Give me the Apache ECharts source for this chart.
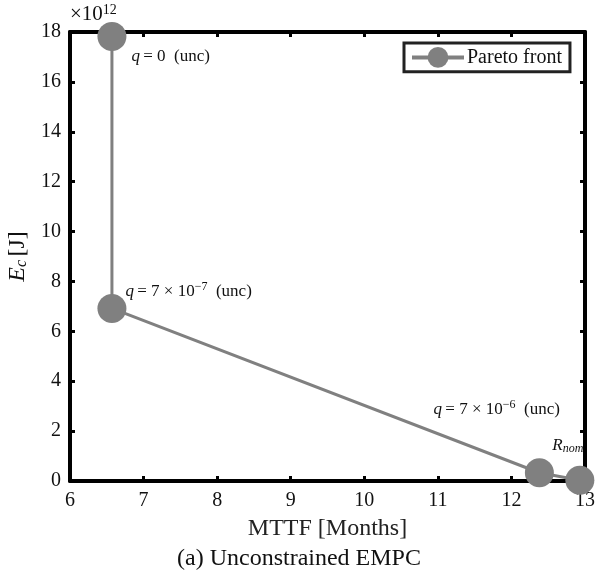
<!DOCTYPE html>
<html>
<head>
<meta charset="utf-8">
<script src="https://cdn.jsdelivr.net/npm/echarts@6/dist/echarts.min.js"></script>
<style>
  html, body { margin: 0; padding: 0; background: #fff; }
  #chart { width: 598px; height: 579px; }
</style>
</head>
<body>
<div id="chart"></div>
<script>
// Pareto front: mean time to failure vs. consumed energy (scaled by 1e12)
const mttf = [6.57, 6.57, 12.38, 12.93];
const energy = [17.82, 6.92, 0.33, 0.03];
const pointNotes = ['q0', 'q7', 'q6', 'rnom'];
const xTicks = [6, 7, 8, 9, 10, 11, 12, 13];
const yTicks = [0, 2, 4, 6, 8, 10, 12, 14, 16, 18];

const SERIF = 'Liberation Serif';
const grey = '#808080';

const richNote = {
  t: { fontFamily: SERIF, fontSize: 17, color: '#111' },
  i: { fontFamily: SERIF, fontSize: 17, fontStyle: 'italic', color: '#111' },
  sup: { fontFamily: SERIF, fontSize: 12, color: '#111', padding: [0, 0, 9, 0] },
  sub: { fontFamily: SERIF, fontSize: 12, fontStyle: 'italic', color: '#111', padding: [7, 0, 0, 0] }
};

const noteText = {
  q0: '{i|q} {t|= 0  (unc)}',
  q7: '{i|q} {t|= 7 × 10}{sup|−7}{t|  (unc)}',
  q6: '{i|q} {t|= 7 × 10}{sup|−6}{t|  (unc)}',
  rnom: '{i|R}{sub|nom}'
};
const notePlace = {
  q0: { position: 'right', offset: [0, 20] },
  q7: { position: 'right', offset: [-6, -17] },
  q6: { position: 'left', offset: [40, -63] },
  rnom: { position: 'top', offset: [-12, -6] }
};

const data = mttf.map((x, k) => {
  const key = pointNotes[k];
  return {
    value: [x, energy[k]],
    label: Object.assign({
      show: true,
      formatter: noteText[key],
      rich: richNote
    }, notePlace[key])
  };
});

const tickLabel = { fontFamily: SERIF, fontSize: 20, color: '#111' };
const axisLine = { show: true, onZero: false, lineStyle: { color: '#000', width: 4 } };
const axisTick = { show: true, inside: true, length: 5, lineStyle: { color: '#000', width: 3 } };

const chart = echarts.init(document.getElementById('chart'), null, { renderer: 'canvas' });
chart.setOption({
  animation: false,
  backgroundColor: '#fff',
  grid: { left: 70, right: 13, top: 32, bottom: 98, containLabel: false, outerBoundsMode: 'none' },
  legend: {
    show: true,
    data: ['Pareto front'],
    left: 404,
    top: 43,
    backgroundColor: '#fff',
    borderColor: '#222',
    borderWidth: 3,
    borderRadius: 0,
    padding: [4, 8, 4, 6],
    itemWidth: 52,
    itemHeight: 26,
    itemGap: 6,
    lineStyle: { width: 4, color: grey },
    itemStyle: { color: grey },
    textStyle: { fontFamily: SERIF, fontSize: 20, color: '#111', padding: [0, 0, 0, -2] }
  },
  xAxis: [
    {
      type: 'value', position: 'bottom', min: 6, max: 13, interval: 1,
      axisLine, axisTick, splitLine: { show: false },
      axisLabel: Object.assign({ margin: 10 }, tickLabel),
      name: 'MTTF [Months]', nameLocation: 'middle', nameGap: 36,
      nameTextStyle: { fontFamily: SERIF, fontSize: 24, color: '#222' }
    },
    {
      type: 'value', position: 'top', min: 6, max: 13, interval: 1,
      axisLine, axisTick, splitLine: { show: false }, axisLabel: { show: false }
    }
  ],
  yAxis: [
    {
      type: 'value', position: 'left', min: 0, max: 18, interval: 2,
      axisLine, axisTick, splitLine: { show: false },
      axisLabel: Object.assign({ margin: 9 }, tickLabel),
      name: '{i|E}{sub|c} {t|[J]}', nameLocation: 'middle', nameGap: 35, nameRotate: 90,
      nameTextStyle: {
        rich: {
          i: { fontFamily: SERIF, fontSize: 24, fontStyle: 'italic', color: '#111' },
          sub: { fontFamily: SERIF, fontSize: 16, fontStyle: 'italic', color: '#111', padding: [9, 0, 0, 0] },
          t: { fontFamily: SERIF, fontSize: 24, color: '#111' }
        }
      }
    },
    {
      type: 'value', position: 'right', min: 0, max: 18, interval: 2,
      axisLine, axisTick, splitLine: { show: false }, axisLabel: { show: false }
    }
  ],
  series: [
    {
      name: 'Pareto front',
      type: 'line',
      data: data,
      clip: false,
      z: 5,
      symbol: 'circle',
      symbolSize: 29,
      itemStyle: { color: grey },
      lineStyle: { color: grey, width: 3 },
      emphasis: { disabled: true }
    }
  ],
  graphic: [
    {
      type: 'text', left: 70, top: 3,
      style: {
        text: '{t|×10}{sup|12}',
        rich: {
          t: { fontFamily: SERIF, fontSize: 21, fill: '#111' },
          sup: { fontFamily: SERIF, fontSize: 14, fill: '#111', padding: [0, 0, 9, 0] }
        }
      }
    },
    {
      type: 'text', left: 'center', top: 547,
      style: { text: '(a) Unconstrained EMPC', fontFamily: SERIF, fontSize: 24, fill: '#111' }
    }
  ]
});
</script>
</body>
</html>
